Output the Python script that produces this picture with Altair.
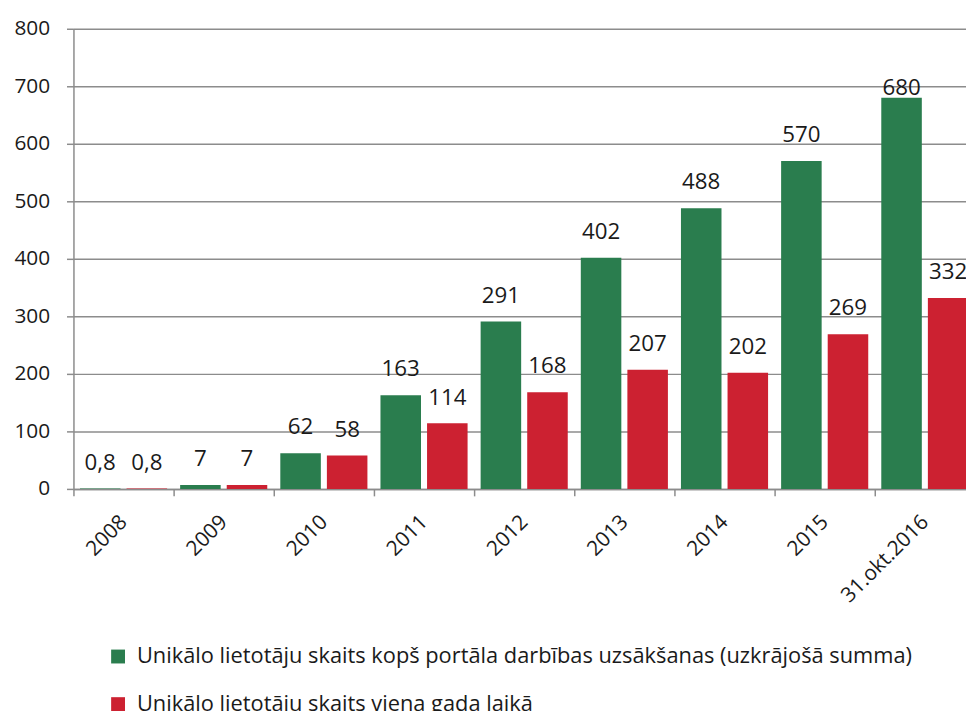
import altair as alt
import pandas as pd

categories = ["2008", "2009", "2010", "2011", "2012", "2013", "2014", "2015", "31.okt.2016"]
cumulative = [0.8, 7, 62, 163, 291, 402, 488, 570, 680]
yearly = [0.8, 7, 58, 114, 168, 207, 202, 269, 332]
series = [
    "Unikālo lietotāju skaits kopš portāla darbības uzsākšanas (uzkrājošā summa)",
    "Unikālo lietotāju skaits viena gada laikā",
]
colors = ["#2a7d4e", "#cc2131"]


def fmt(v):
    if float(v).is_integer():
        return str(int(v))
    return str(v).replace(".", ",")


rows = []
for c, a, b in zip(categories, cumulative, yearly):
    rows.append({"cat": c, "series": series[0], "value": a, "label": fmt(a)})
    rows.append({"cat": c, "series": series[1], "value": b, "label": fmt(b)})
df = pd.DataFrame(rows)

FONT = "Open Sans"

x = alt.X(
    "cat:N",
    sort=categories,
    scale=alt.Scale(paddingInner=0, paddingOuter=0),
    axis=alt.Axis(
        title=None,
        labelAngle=-45,
        labelAlign="right",
        labelBaseline="middle",
        labelPadding=23,
        tickBand="extent",
        tickSize=7,
        grid=False,
        labelFontSize=21,
    ),
)
xo = alt.XOffset(
    "series:N", sort=series, scale=alt.Scale(paddingInner=0.13, paddingOuter=0.14)
)
y = alt.Y(
    "value:Q",
    scale=alt.Scale(domain=[0, 800], nice=False),
    axis=alt.Axis(
        title=None,
        values=list(range(0, 801, 100)),
        grid=True,
        tickSize=7,
        labelPadding=17,
        labelFontSize=21,
    ),
)

bars = alt.Chart(df).mark_bar().encode(
    x=x,
    xOffset=xo,
    y=y,
    color=alt.Color(
        "series:N",
        sort=series,
        scale=alt.Scale(domain=series, range=colors),
        legend=alt.Legend(
            title=None,
            orient="none",
            legendX=34,
            legendY=622,
            direction="vertical",
            symbolType="square",
            symbolSize=196,
            symbolStrokeWidth=0,
            labelFontSize=22,
            labelFont=FONT,
            labelColor="#1a1a1a",
            labelLimit=0,
            labelOffset=8,
            rowPadding=26,
        ),
    ),
)

top_label = (alt.datum.cat == categories[-1]) & (alt.datum.series == series[0])

texts = alt.Chart(df).transform_filter(~top_label).mark_text(
    dy=-19, baseline="alphabetic", fontSize=22.5, font=FONT, color="#1a1a1a"
).encode(x=x, xOffset=xo, y=y, text="label:N")

texts_top = alt.Chart(df).transform_filter(top_label).mark_text(
    dy=-3, baseline="alphabetic", fontSize=22.5, font=FONT, color="#1a1a1a"
).encode(x=x, xOffset=xo, y=y, text="label:N")

chart = (
    alt.layer(bars, texts, texts_top)
    .properties(
        width=909,
        height=464,
        autosize=alt.AutoSizeParams(type="none"),
        padding={"left": 66, "top": 18, "right": -9, "bottom": 221},
    )
    .configure_view(stroke=None)
    .configure_axis(
        labelFont=FONT,
        labelColor="#1a1a1a",
        gridColor="#8c8c8c",
        gridWidth=1.5,
        domainColor="#8c8c8c",
        domainWidth=1.5,
        tickColor="#8c8c8c",
        tickWidth=1.5,
    )
)

chart.save("out.html", embed_options={"renderer": "svg", "actions": False})
